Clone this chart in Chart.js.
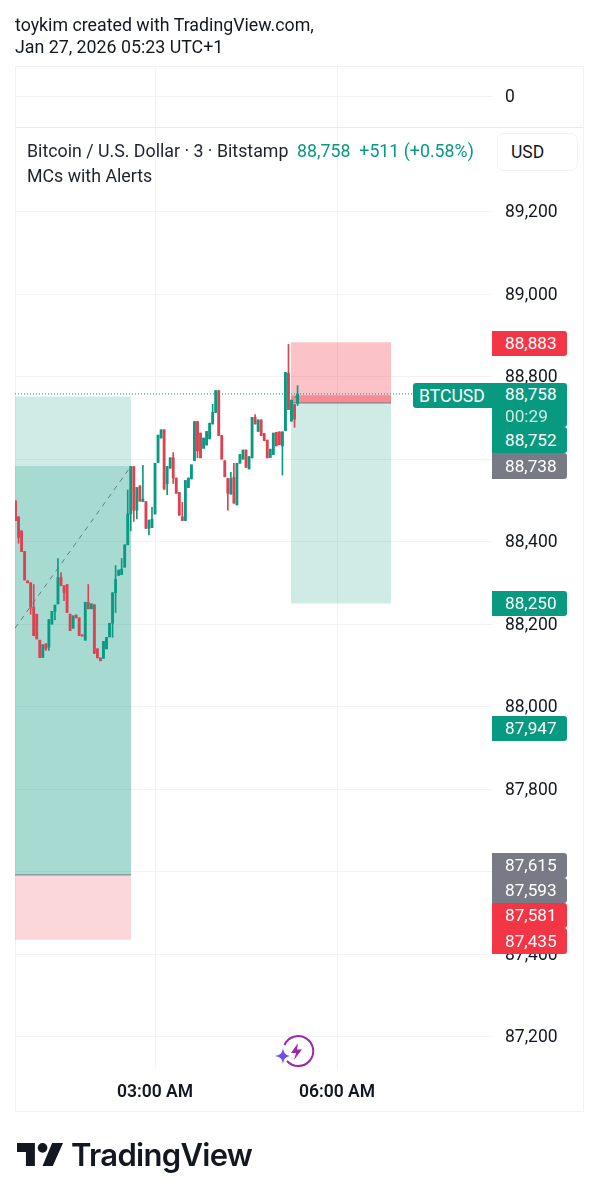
<!DOCTYPE html>
<html>
<head>
<meta charset="utf-8">
<script src="https://cdn.jsdelivr.net/npm/chart.js@4/dist/chart.umd.min.js"></script>
<style>
html,body{margin:0;padding:0;background:#fff;width:598px;height:1200px;overflow:hidden}
body{position:relative;font-family:Roboto,sans-serif;color:#131722}
canvas{position:absolute;left:0;top:0}
.t{position:absolute;white-space:nowrap;font-size:17.8px;line-height:24px}
.frame{position:absolute;left:15px;top:66px;width:567px;height:1044px;border:1px solid #f0f3f5}
.div{position:absolute;left:15px;top:127px;width:568px;height:1px;background:#e9ebee}
.b{position:absolute;left:492px;width:75px;color:#fff;font-size:17.2px;line-height:24px;padding-left:13px;box-sizing:border-box;border-radius:0 3px 3px 0}
.r{background:#f23645}.g{background:#089981}.k{background:#787b86}
.usd{position:absolute;left:497px;top:133px;width:81px;height:38px;box-sizing:border-box;border:1px solid #f0f3f5;border-radius:7px;background:#fff;font-size:17.5px;line-height:37px;padding-left:13px}
</style>
</head>
<body>
<div class="frame"></div>
<canvas id="top" width="598" height="152"></canvas>
<canvas id="main" width="598" height="1200"></canvas>
<div class="div"></div>

<div class="t" style="left:15px;top:13px">toykim created with TradingView.com,</div>
<div class="t" style="left:15px;top:35px">Jan 27, 2026 05:23 UTC+1</div>
<div class="t" style="left:27px;top:139px;color:#1e222d">Bitcoin / U.S. Dollar · 3 · Bitstamp</div>
<div class="t" style="left:297px;top:139px;color:#089981">88,758 &nbsp;+511 (+0.58%)</div>
<div class="t" style="left:27px;top:164px;color:#1e222d">MCs with Alerts</div>
<div class="usd">USD</div>

<div class="b r" style="top:331px;height:25px">88,883</div>
<div class="b g" style="left:413px;width:79px;top:383px;height:25px;padding-left:6px;border-radius:3px 0 0 3px;line-height:26px;font-size:17.6px">BTCUSD</div>
<div class="b g" style="top:383px;height:44px;line-height:22px">88,758<br><span style="opacity:.8">00:29</span></div>
<div class="b g" style="top:427px;height:26px;line-height:26px">88,752</div>
<div class="b k" style="top:453px;height:26px;line-height:26px">88,738</div>
<div class="b g" style="top:591px;height:25px;line-height:25px">88,250</div>
<div class="b g" style="top:716px;height:25px;line-height:25px">87,947</div>
<div class="b k" style="top:853px;height:25px;line-height:25px">87,615</div>
<div class="b k" style="top:878px;height:25px;line-height:25px">87,593</div>
<div class="b r" style="top:903px;height:25px;line-height:25px">87,581</div>
<div class="b r" style="top:928px;height:26px;line-height:26px">87,435</div>

<svg style="position:absolute;left:272px;top:1034px" width="44" height="36" viewBox="0 0 44 36">
  <path d="M12.5 11 A15 15 0 1 1 15 27" fill="none" stroke="#9c27b0" stroke-width="2"/>
  <path d="M26 9 L19 19 H24 L22 26 L30 15.5 H25 Z" fill="#9c27b0"/>
  <path d="M11 14 C12 19 13 21 18 22 C13 23 12 25 11 30 C10 25 9 23 3 22 C9 21 10 19 11 14 Z" fill="#6f4ff2"/>
</svg>
<svg style="position:absolute;left:17px;top:1143px" width="46" height="23" viewBox="0 0 36 18">
  <path d="M14 18H7V7H0V0h14zM28 18h-8l7.5-18H36zM20 0a3.8 3.8 0 1 1 0 7.6 3.8 3.8 0 0 1 0-7.6z" fill="#131722"/>
</svg>
<div style="position:absolute;left:71px;top:1135px;font-family:Inter,sans-serif;font-weight:600;font-size:31px;line-height:40px;letter-spacing:-.7px;color:#131722;white-space:nowrap">TradingView</div>

<script>
// Bar open times: minutes after midnight, one bar every 3 minutes
const barMinutes = [42,45,48,51,54,57,60,63,66,69,72,75,78,81,84,87,90,93,96,99,102,105,108,111,114,117,120,123,126,129,132,135,138,141,144,147,150,153,156,159,162,165,168,171,174,177,180,183,186,189,192,195,198,201,204,207,210,213,216,219,222,225,228,231,234,237,240,243,246,249,252,255,258,261,264,267,270,273,276,279,282,285,288,291,294,297,300,303,306,309,312,315,318,321];
const opens = [88499,88460,88426,88376,88305,88300,88241,88224,88161,88119,88152,88144,88200,88231,88249,88313,88293,88296,88224,88190,88222,88215,88174,88161,88253,88237,88247,88140,88118,88117,88140,88169,88202,88276,88318,88320,88338,88392,88467,88582,88476,88535,88497,88497,88432,88434,88467,88592,88651,88671,88540,88578,88603,88554,88519,88460,88451,88531,88552,88596,88691,88663,88626,88634,88649,88685,88713,88766,88657,88596,88553,88515,88556,88489,88590,88600,88622,88576,88603,88701,88667,88695,88662,88646,88604,88611,88665,88666,88632,88669,88808,88692,88732,88735];
const closes = [88451,88410,88376,88307,88300,88241,88172,88164,88119,88150,88140,88211,88231,88246,88313,88293,88277,88228,88184,88220,88215,88172,88171,88253,88237,88249,88129,88118,88111,88158,88168,88202,88276,88308,88331,88333,88392,88467,88582,88476,88531,88498,88503,88432,88452,88454,88590,88658,88671,88527,88582,88603,88554,88517,88464,88451,88548,88554,88586,88691,88620,88603,88651,88667,88687,88713,88766,88657,88600,88557,88517,88553,88493,88590,88611,88622,88580,88606,88701,88685,88695,88657,88645,88603,88624,88663,88632,88635,88666,88810,88720,88743,88697,88758];
const highs = [88499,88460,88426,88376,88305,88300,88296,88224,88161,88150,88152,88211,88231,88246,88359,88325,88293,88296,88224,88220,88222,88215,88174,88253,88296,88249,88247,88140,88118,88158,88168,88202,88276,88342,88331,88359,88392,88525,88582,88582,88531,88535,88585,88497,88452,88483,88590,88658,88671,88671,88582,88603,88616,88554,88519,88495,88548,88554,88586,88691,88691,88663,88651,88667,88687,88733,88766,88766,88657,88596,88553,88568,88590,88590,88611,88622,88622,88606,88701,88708,88695,88695,88662,88646,88624,88663,88665,88666,88666,88810,88878,88743,88732,88778];
const lows = [88451,88396,88376,88307,88300,88224,88172,88164,88119,88119,88136,88136,88200,88210,88249,88293,88257,88228,88184,88190,88215,88172,88171,88161,88237,88237,88129,88118,88111,88117,88140,88169,88168,88228,88318,88320,88338,88426,88426,88449,88455,88498,88497,88432,88416,88434,88467,88592,88651,88527,88514,88578,88541,88517,88464,88451,88451,88531,88552,88596,88603,88603,88626,88634,88649,88685,88713,88657,88600,88557,88476,88515,88493,88489,88590,88600,88580,88576,88603,88685,88667,88657,88645,88603,88604,88611,88632,88635,88561,88669,88720,88692,88677,88730];

const priceTicks = [87200,87400,87600,87800,88000,88200,88400,88600,88800,89000,89200];
const timeTicks = [180,360];
const timeTickLabels = ['03:00 AM','06:00 AM'];
const upperPaneTicks = [0];

// Position tools: [start minute, end minute, top price, bottom price]
const longBoxOuter = [41.5,156.3,88752,87592];
const longBoxInner = [41.5,156.3,88583,87592];
const longBoxStop  = [41.5,156.3,87592,87435];
const shortBoxStop = [314.5,413.4,88883,88736];
const shortBoxBand = [314.5,413.4,88755,88736];
const shortBoxGoal = [314.5,413.4,88736,88250];
const longEntry = [41.5,156.3,87592];
const shortEntry = [314.5,413.4,88736];
const longDiagonal = [41.5,88190,156.3,88583];
const shortDiagonal = [314.5,88736,321,88758];
const lastPrice = 88758;
const lastPriceEnd = 435;
const xRange = [41.5,513.3];
const yRange = [87121.5,89405];

const UP='#0a9a82', DOWN='#dc4252', GRID='#f2f3f5';
const box=(b,color)=>({type:'line',order:10,data:[{x:b[0],y:b[2]},{x:b[1],y:b[2]}],backgroundColor:color,borderWidth:0,pointRadius:0,fill:{value:b[3]}});
const seg=(pts,color,dash,w,order)=>({type:'line',order,data:pts,borderColor:color,borderDash:dash,borderWidth:w,pointRadius:0,fill:false});
const colors=opens.map((o,i)=>closes[i]>=o?UP:DOWN);

new Chart(document.getElementById('main'),{
  type:'bar',
  data:{datasets:[
    box(longBoxOuter,'rgba(8,153,129,.2)'),
    box(longBoxInner,'rgba(8,153,129,.2)'),
    box(longBoxStop,'rgba(242,54,69,.2)'),
    box(shortBoxStop,'rgba(242,54,69,.3)'),
    box(shortBoxBand,'rgba(242,54,69,.4)'),
    box(shortBoxGoal,'rgba(8,153,129,.2)'),
    seg([{x:longEntry[0],y:longEntry[2]},{x:longEntry[1],y:longEntry[2]}],'#6f7f80',[],1,9),
    seg([{x:shortEntry[0],y:shortEntry[2]},{x:shortEntry[1],y:shortEntry[2]}],'#6f7f80',[],1,9),
    seg([{x:longDiagonal[0],y:longDiagonal[1]},{x:longDiagonal[2],y:longDiagonal[3]}],'#5f7f7a',[5,5],1,8),
    seg([{x:shortDiagonal[0],y:shortDiagonal[1]},{x:shortDiagonal[2],y:shortDiagonal[3]}],'#5f7f7a',[3,3],1,8),
    {type:'bar',order:3,grouped:false,barThickness:1,backgroundColor:colors,
      data:barMinutes.map((m,i)=>({x:m,y:[lows[i],highs[i]]}))},
    {type:'bar',order:2,grouped:false,barThickness:2.2,backgroundColor:colors,
      data:barMinutes.map((m,i)=>({x:m,y:[Math.min(opens[i],closes[i]),Math.max(opens[i],closes[i])]}))},
    seg([{x:xRange[0],y:lastPrice},{x:lastPriceEnd,y:lastPrice}],UP,[1,2],1,1)
  ]},
  options:{
    responsive:false,animation:false,devicePixelRatio:1,
    layout:{padding:{left:15,top:127,right:0,bottom:0}},
    plugins:{legend:{display:false},tooltip:{enabled:false}},
    scales:{
      x:{type:'linear',offset:false,min:xRange[0],max:xRange[1],
        grid:{color:GRID,drawTicks:false,offset:false},border:{display:false},
        afterBuildTicks:a=>{a.ticks=timeTicks.map(v=>({value:v}))},
        afterFit:a=>{a.height=131},
        ticks:{autoSkip:false,maxRotation:0,padding:13,color:'#131722',
          font:{family:'Roboto',size:17.5,weight:'600'},
          callback:v=>timeTickLabels[timeTicks.indexOf(v)]}},
      y:{type:'linear',position:'right',min:yRange[0],max:yRange[1],
        grid:{color:GRID,drawTicks:false},border:{display:false},
        afterBuildTicks:a=>{a.ticks=priceTicks.map(v=>({value:v}))},
        afterFit:a=>{a.width=106},
        ticks:{autoSkip:false,padding:13,crossAlign:'near',color:'#131722',labelOffset:1.5,
          font:{family:'Roboto',size:17.5},
          callback:v=>v.toLocaleString('en-US')}}
    }
  }
});

new Chart(document.getElementById('top'),{
  type:'scatter',
  data:{datasets:[{data:[],pointRadius:0}]},
  options:{
    responsive:false,animation:false,devicePixelRatio:1,
    layout:{padding:{left:15,top:66,right:0,bottom:0}},
    plugins:{legend:{display:false},tooltip:{enabled:false}},
    scales:{
      x:{type:'linear',min:xRange[0],max:xRange[1],
        grid:{color:GRID,drawTicks:false},border:{display:false},
        afterBuildTicks:a=>{a.ticks=timeTicks.map(v=>({value:v}))},
        afterFit:a=>{a.height=0},ticks:{display:false}},
      y:{type:'linear',position:'right',min:-32,max:30,
        grid:{color:GRID,drawTicks:false},border:{display:false},
        afterBuildTicks:a=>{a.ticks=upperPaneTicks.map(v=>({value:v}))},
        afterFit:a=>{a.width=106},
        ticks:{padding:13,crossAlign:'near',color:'#131722',labelOffset:1.5,font:{family:'Roboto',size:17.5}}}
    }
  }
});
</script>
</body>
</html>
